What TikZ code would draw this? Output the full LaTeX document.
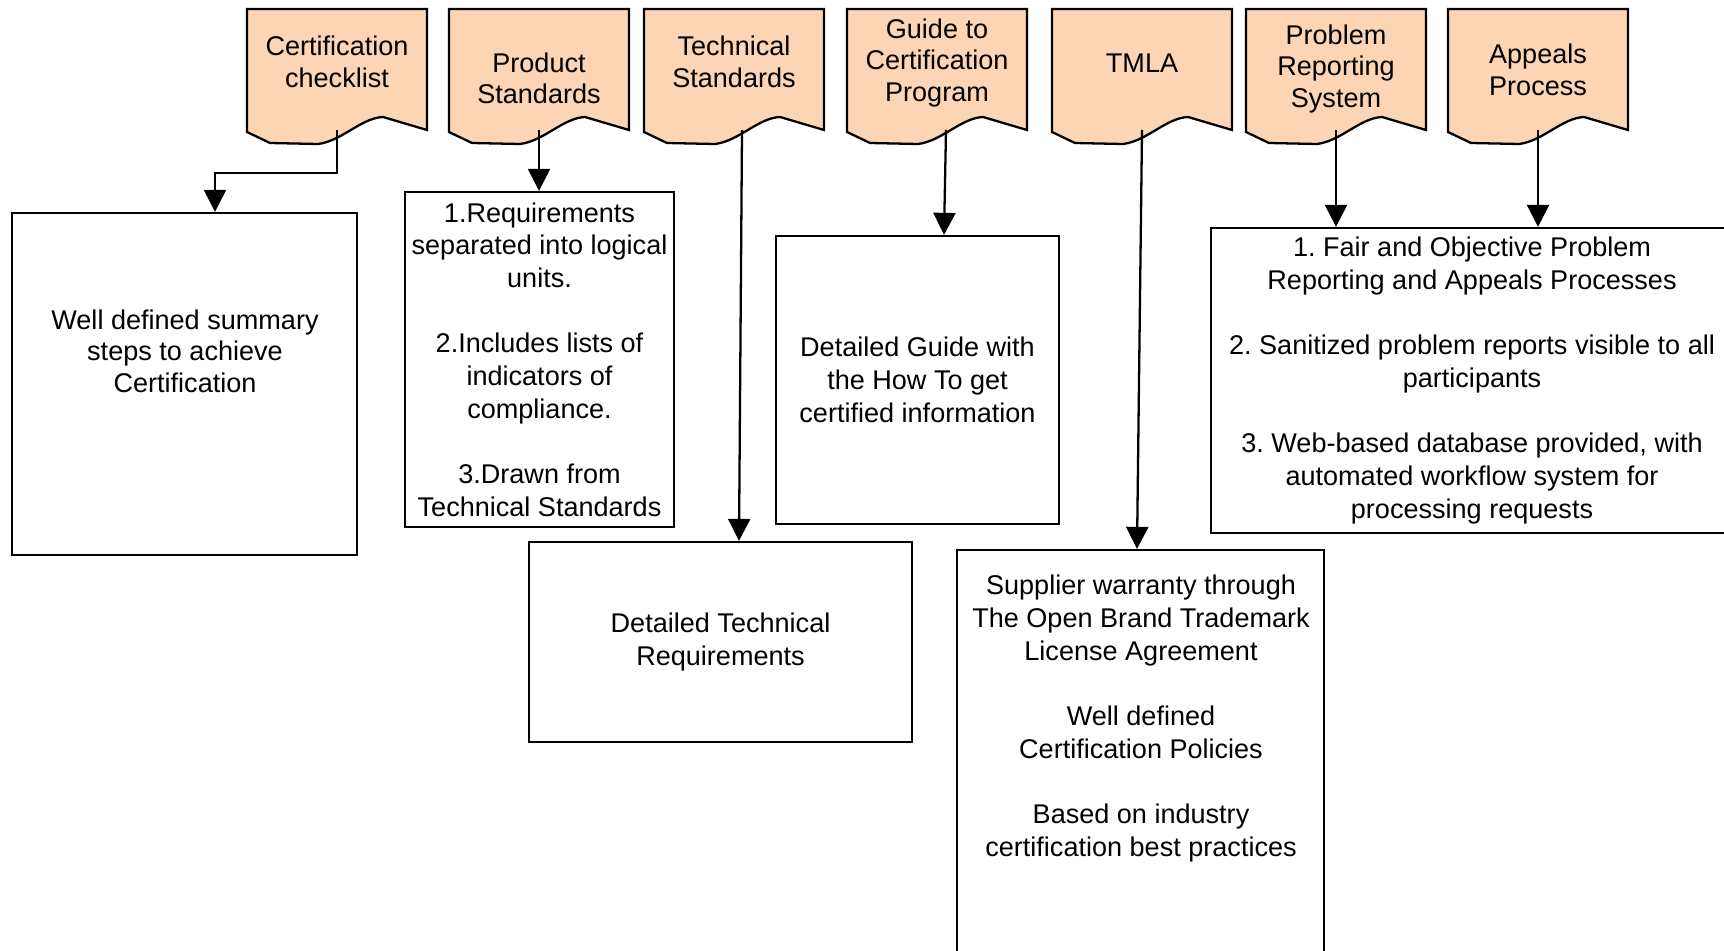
\documentclass[tikz,border=0pt]{standalone}
\usepackage{fontspec}
\setmainfont{Liberation Sans}
\usepackage{tikz}
\usetikzlibrary{arrows.meta,positioning,calc}
\definecolor{peach}{RGB}{252,213,180}
\newcommand{\docw}{0.65pt}
\frenchspacing

% document shape: name, left x, text y, text
\newcommand{\Doc}[4]{%
    \begin{scope}[shift={(#2,0)}]
        \draw[docshape] (0,-0.09) -- (1.8,-0.09) -- (1.8,-1.30) -- (1.36,-1.17)
            .. controls (1.14,-1.18) and (0.95,-1.41) .. (0.71,-1.44) -- (0.23,-1.43) -- (0,-1.32) -- cycle;
        \node[doctext] (#1) at (0.9,#3) {#4};
        \coordinate (#1-b) at (0.9,-1.30);
    \end{scope}
}

\begin{document}
\begin{tikzpicture}[
        every node/.style = {font=\fontsize{7.7}{9.3}\selectfont},
        docshape/.style = {draw=black, fill=peach, line width=\docw},
        doctext/.style = {align=center, inner sep=0, font=\fontsize{7.7}{9.0}\selectfont},
        box/.style = {draw=black, line width=\docw, align=center, inner sep=0},
        arr/.style = {line width=\docw, -{Triangle[length=2.2mm,width=2.2mm]}}
    ]
    \useasboundingbox (0,0) rectangle (17.24,-9.50);

    \Doc{chk}{2.47}{-0.62}{Certification\\checklist}
    \Doc{prod}{4.49}{-0.785}{Product\\Standards}
    \Doc{tech}{6.44}{-0.62}{Technical\\Standards}
    \Doc{guide}{8.47}{-0.63}{Guide to\\Certification\\Program}
    \Doc{tmla}{10.52}{-0.63}{TMLA}
    \Doc{prs}{12.46}{-0.69}{Problem\\Reporting\\System}
    \Doc{apl}{14.48}{-0.70}{Appeals\\Process}

    \node[box, minimum width=3.45cm, minimum height=3.42cm] (sum) at (1.845,-3.84) {};
    \node[doctext] (sumt) at (1.85,-3.51) {Well defined summary\\steps to achieve\\Certification};

    \node[box, minimum width=2.69cm, minimum height=3.35cm] (prodbox) at (5.395,-3.595)
        {1.Requirements\\separated into logical\\units.\\[9.3pt]2.Includes lists of\\indicators of\\compliance.\\[9.3pt]3.Drawn from\\Technical Standards};

    \node[box, minimum width=3.83cm, minimum height=2.00cm] (techbox) at (7.205,-6.42)
        {Detailed Technical\\Requirements};

    \node[box, minimum width=2.83cm, minimum height=2.88cm] (guidebox) at (9.175,-3.80)
        {Detailed Guide with\\the How To get\\certified information};

    \node[box, minimum width=3.67cm, minimum height=4.60cm] (tmlabox) at (11.405,-7.80) {};
    \node[align=center, inner sep=0] (tmlat) at (11.41,-7.185) {Supplier warranty through\\The Open Brand Trademark\\License Agreement\\[9.3pt]Well defined\\Certification Policies\\[9.3pt]Based on industry\\certification best practices};

    \node[box, minimum width=5.22cm, minimum height=3.05cm] (prsbox) at (14.72,-3.805)
        {1. Fair and Objective Problem\\Reporting and Appeals Processes\\[9.3pt]2. Sanitized problem reports visible to all\\participants\\[9.3pt]3. Web-based database provided, with\\automated workflow system for\\processing requests};

    \draw[arr] (chk-b) -- ++(0,-0.43) -| ([xshift=0.305cm]sum.north);
    \draw[arr] (prod-b) -- (prod-b |- prodbox.north);
    \draw[arr] ([xshift=0.08cm]tech-b) -- ([xshift=0.185cm]techbox.north);
    \draw[arr] ([xshift=0.09cm]guide-b) -- ([xshift=0.265cm]guidebox.north);
    \draw[arr] (tmla-b) -- ([xshift=-0.035cm]tmlabox.north);
    \draw[arr] (prs-b) -- (prs-b |- prsbox.north);
    \draw[arr] (apl-b) -- (apl-b |- prsbox.north);
\end{tikzpicture}
\end{document}
